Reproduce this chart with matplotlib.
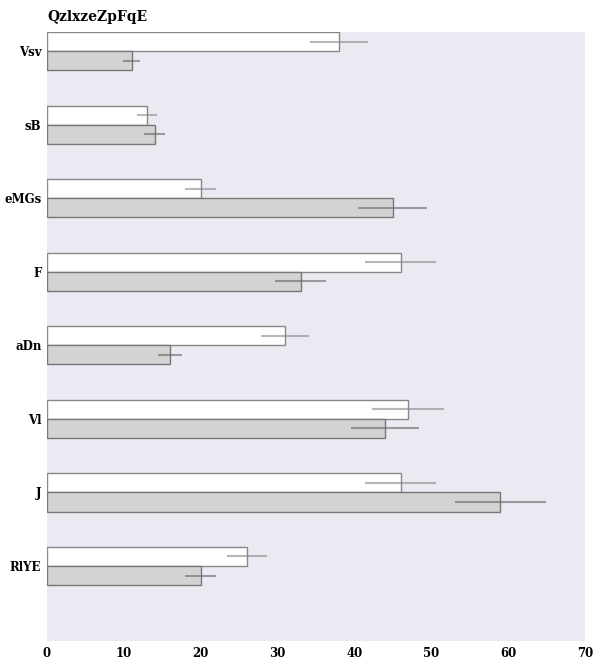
import matplotlib
matplotlib.use("Agg")
import matplotlib.pyplot as plt
import numpy as np

categories = ["Vsv", "sB", "eMGs", "F", "aDn", "Vl", "J", "RlYE"]
series_a = [38, 13, 20, 46, 31, 47, 46, 26]
series_b = [11, 14, 45, 33, 16, 44, 59, 20]
err_a = [3.8, 1.3, 2.0, 4.6, 3.1, 4.7, 4.6, 2.6]
err_b = [1.1, 1.4, 4.5, 3.3, 1.6, 4.4, 5.9, 2.0]
x_ticks = [0, 10, 20, 30, 40, 50, 60, 70]
title = "QzlxzeZpFqE"

plt.rcParams['font.family'] = ['DejaVu Serif']

fig = plt.figure(figsize=(6.03, 6.70), dpi=100)
ax = fig.add_axes([47/603, 1-641/670, 538/603, 609/670])
ax.set_facecolor("#EAEAF2")
for s in ax.spines.values():
    s.set_visible(False)

y = np.arange(len(categories))
h = 0.26
ax.barh(y - h/2, series_a, height=h, color="white", edgecolor="#888888", linewidth=1.0, zorder=2)
ax.barh(y + h/2, series_b, height=h, color="#D3D3D3", edgecolor="#777777", linewidth=1.0, zorder=2)
ax.errorbar(series_a, y - h/2, xerr=err_a, fmt="none", ecolor="#888888", alpha=0.6, elinewidth=1.5, capsize=0, zorder=3)
ax.errorbar(series_b, y + h/2, xerr=err_b, fmt="none", ecolor="#666666", alpha=0.6, elinewidth=1.5, capsize=0, zorder=3)

ax.set_yticks(y)
ax.set_yticklabels(categories, fontsize=8.5, fontweight="bold")
ax.set_xticks(x_ticks)
ax.set_xticklabels([str(v) for v in x_ticks], fontsize=8.5, fontweight="bold")
ax.tick_params(length=0, pad=4)
ax.set_xlim(0, 70)
ax.set_ylim(len(categories) + 0.02, -2*h/2 - 0.0)
ax.set_title(title, loc="left", fontsize=10, fontweight="bold", pad=8)

fig.savefig("out.png", dpi=100)
